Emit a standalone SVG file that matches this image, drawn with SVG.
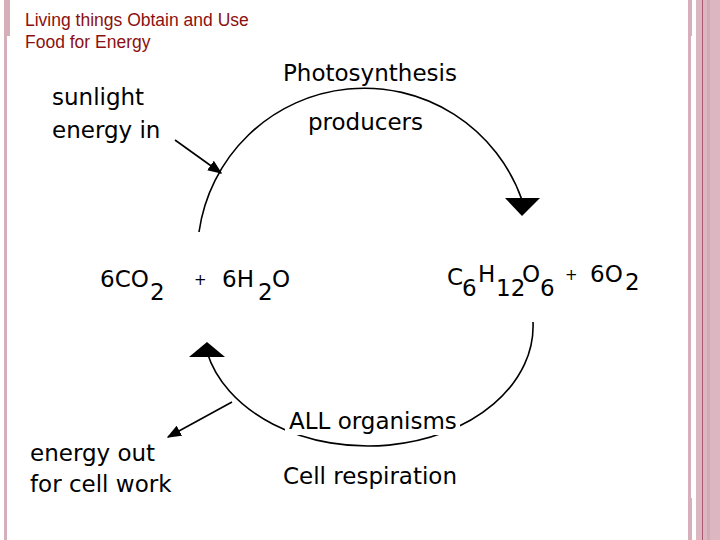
<svg xmlns="http://www.w3.org/2000/svg" width="720" height="540" viewBox="0 0 720 540">
<style>
.t{font-family:"DejaVu Sans",sans-serif;font-size:23px;fill:#000}
.s{font-family:"DejaVu Sans",sans-serif;font-size:15px;fill:#000}
.c{fill:none;stroke:#000;stroke-width:1.6}
</style>
<defs><marker id="a" viewBox="0 0 10 10" refX="9" refY="5" markerWidth="9" markerHeight="9" orient="auto"><path d="M0,1 L10,5 L0,9 z" fill="#000"/></marker></defs>
<rect width="720" height="540" fill="#fff"/>
<rect x="4" y="0" width="3" height="540" fill="#d5b0bb"/>
<rect x="4" y="0" width="6" height="36" fill="#d5b0bb"/>
<rect x="688" y="0" width="3" height="540" fill="#d5b0bb"/>
<rect x="688" y="0" width="4" height="36" fill="#d5b0bb"/>
<rect x="688" y="498" width="4" height="42" fill="#d5b0bb"/>
<rect x="696" y="0" width="24" height="540" fill="#dcb6c0"/>
<rect x="702" y="0" width="1" height="540" fill="#a8596f"/>
<rect x="707" y="0" width="3" height="540" fill="#d2a9b5"/>
<text x="25" y="26" font-family="Liberation Sans,Arial,sans-serif" font-size="17.5" fill="#8b1010">Living things Obtain and Use</text>
<text x="25" y="48" font-family="Liberation Sans,Arial,sans-serif" font-size="17.5" fill="#8b1010">Food for Energy</text>
<g id="connectors">
<path class="c" d="M199,232 A167,167 0 0 1 522,200"/>
<polygon points="505,198 540,198 522,216"/>
<path class="c" d="M533,322 A165,120 0 0 1 207,352"/>
<polygon points="189,357 225,357 207,342"/>
<line class="c" x1="175" y1="140" x2="221" y2="173" marker-end="url(#a)"/>
<line class="c" x1="232" y1="402" x2="168" y2="437" marker-end="url(#a)"/>
</g>
<g id="photo"><text class="t" x="283" y="81">Photosynthesis</text><text class="t" x="308" y="130">producers</text></g>
<g id="sun"><text class="t" x="52" y="105">sunlight</text><text class="t" x="52" y="138">energy in</text></g>
<g id="reactants"><text class="t" x="100" y="287">6CO</text><text class="t" x="150" y="300">2</text><text class="s" x="194" y="285">+</text><text class="t" x="222" y="287">6H</text><text class="t" x="258" y="300">2</text><text class="t" x="272" y="287">O</text></g>
<g id="products"><text class="t" x="447" y="285">C</text><text class="t" x="462" y="296">6</text><text class="t" x="478" y="282">H</text><text class="t" x="496" y="296">12</text><text class="t" x="522" y="282">O</text><text class="t" x="540" y="296">6</text><text class="s" x="565" y="280">+</text><text class="t" x="590" y="282">6O</text><text class="t" x="625" y="290">2</text></g>
<g id="resp"><rect x="285" y="405" width="175" height="30" fill="#fff"/><text class="t" x="289" y="429">ALL organisms</text><text class="t" x="283" y="484">Cell respiration</text></g>
<g id="out"><text class="t" x="30" y="461">energy out</text><text class="t" x="30" y="492">for cell work</text></g>
</svg>
